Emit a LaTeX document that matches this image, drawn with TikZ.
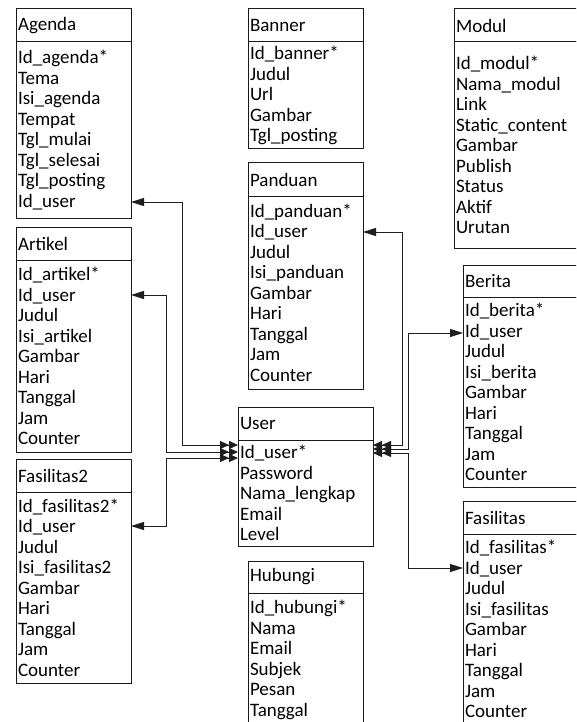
\documentclass[tikz,border=0pt]{standalone}
\usepackage{fontspec}
\setmainfont{Carlito}
\usepackage{tikz}
\usetikzlibrary{positioning,calc}
\usetikzlibrary{arrows.meta}
\definecolor{BoxLine}{RGB}{25,25,25}
\definecolor{LinkGray}{RGB}{30,30,30}
\tikzset{
	head/.style={draw=BoxLine,line width=1pt,anchor=north west,align=left,outer sep=0pt,
		inner xsep=2pt,inner ysep=0pt,minimum height=33pt,text width=#1,
		font=\fontsize{19}{20.5}\selectfont},
	body/.style={draw=BoxLine,line width=1pt,anchor=north west,align=left,outer sep=0pt,
		inner xsep=2pt,inner ysep=0pt,text width=#1,
		font=\fontsize{19}{20.5}\selectfont},
	link/.style={draw=LinkGray,line width=1pt,
		{Triangle[length=9pt,width=8pt]Triangle[length=9pt,width=8pt]}-{Triangle[length=13pt,width=8pt]}},
}

\begin{document}
\begin{tikzpicture}[x=1pt,y=-1pt]
	\useasboundingbox (0,0) rectangle (576,722);
	\clip (0,0) rectangle (576,722);
	% left column
	\node[head=111pt] (agenda) at (16,9) {Agenda};
	\node[body=111pt,minimum height=176pt] (agendab) at (agenda.south west)
		{Id\_agenda*\\Tema\\Isi\_agenda\\Tempat\\Tgl\_mulai\\Tgl\_selesai\\Tgl\_posting\\Id\_user};
	\node[head=111pt] (artikel) at (16,227) {Artikel};
	\node[body=111pt,minimum height=192pt] (artikelb) at (artikel.south west)
		{Id\_artikel*\\Id\_user\\Judul\\Isi\_artikel\\Gambar\\Hari\\Tanggal\\Jam\\Counter};
	\node[head=111pt] (fasilitas2) at (16,459) {Fasilitas2};
	\node[body=111pt,minimum height=191pt] (fasilitas2b) at (fasilitas2.south west)
		{Id\_fasilitas2*\\Id\_user\\Judul\\Isi\_fasilitas2\\Gambar\\Hari\\Tanggal\\Jam\\Counter};
	% middle column
	\node[head=111pt] (banner) at (248,9) {Banner};
	\node[body=111pt,minimum height=107pt] (bannerb) at (banner.south west)
		{Id\_banner*\\Judul\\Url\\Gambar\\Tgl\_posting};
	\node[head=111pt] (panduan) at (248,163) {Panduan};
	\node[body=111pt,minimum height=193pt] (panduanb) at (panduan.south west)
		{Id\_panduan*\\Id\_user\\Judul\\Isi\_panduan\\Gambar\\Hari\\Tanggal\\Jam\\Counter};
	\node[head=131pt] (user) at (238,407) {User};
	\node[body=131pt,minimum height=106pt] (userb) at (user.south west)
		{Id\_user*\\Password\\Nama\_lengkap\\Email\\Level};
	\node[head=111pt,minimum height=32pt] (hubungi) at (248,561) {Hubungi};
	\node[body=111pt,minimum height=134pt] (hubungib) at (hubungi.south west)
		{Id\_hubungi*\\Nama\\Email\\Subjek\\Pesan\\Tanggal};
	% right column
	\node[head=146pt] (modul) at (454,9) {Modul};
	\node[body=146pt,minimum height=206pt] (modulb) at (modul.south west)
		{Id\_modul*\\Nama\_modul\\Link\\Static\_content\\Gambar\\Publish\\Status\\Aktif\\Urutan};
	\node[head=136pt,minimum height=32pt] (berita) at (463,265) {Berita};
	\node[body=136pt,minimum height=190pt] (beritab) at (berita.south west)
		{Id\_berita*\\Id\_user\\Judul\\Isi\_berita\\Gambar\\Hari\\Tanggal\\Jam\\Counter};
	\node[head=136pt] (fasilitas) at (463,501) {Fasilitas};
	\node[body=136pt,minimum height=190pt] (fasilitasb) at (fasilitas.south west)
		{Id\_fasilitas*\\Id\_user\\Judul\\Isi\_fasilitas\\Gambar\\Hari\\Tanggal\\Jam\\Counter};
	% relations from User
	\draw[link] (userb.west |- 0,445) -| (182,202) -- (agendab.east |- 0,202);
	\draw[link] (userb.west |- 0,452) -| (166,295) -- (artikelb.east |- 0,295);
	\draw[link] (userb.west |- 0,458) -| (166,526) -- (fasilitas2b.east |- 0,526);
	\draw[link] (userb.east |- 0,445) -| (402,232) -- (panduanb.east |- 0,232);
	\draw[link] (userb.east |- 0,449) -| (408,333) -- (beritab.west |- 0,333);
	\draw[link] (userb.east |- 0,453) -| (408,568) -- (fasilitasb.west |- 0,568);
\end{tikzpicture}
\end{document}
